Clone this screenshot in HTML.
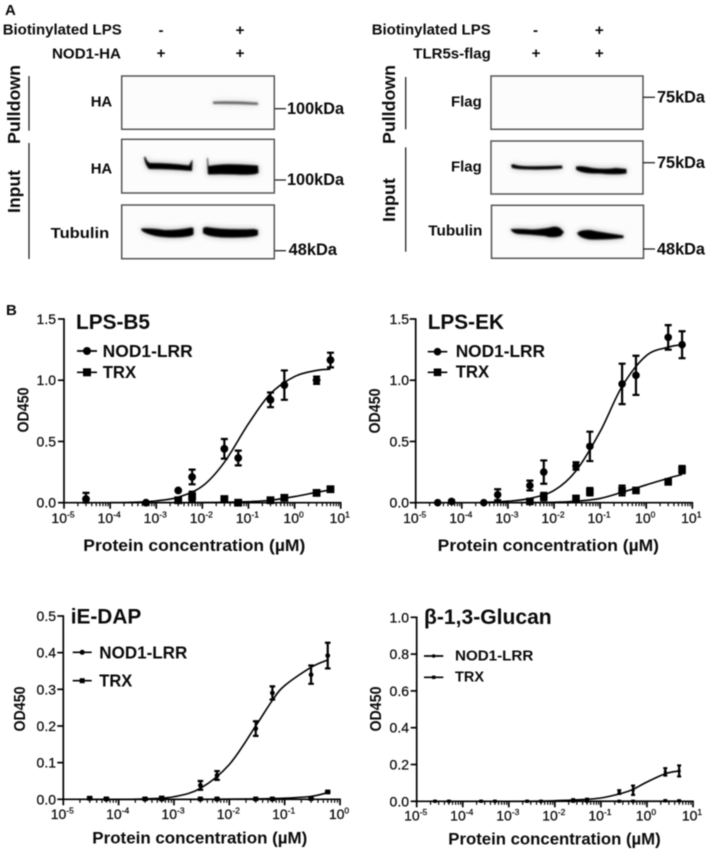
<!DOCTYPE html>
<html lang="en">
<head>
<meta charset="utf-8">
<title>NOD1 binding figure</title>
<style>
html,body{margin:0;padding:0;background:#fff;width:709px;height:850px;overflow:hidden}
svg{display:block;filter:blur(0.45px)}
text{font-family:"Liberation Sans",Arial,sans-serif;fill:#0a0a0a}
.b{font-weight:bold}
.lab{font-weight:bold;font-size:15.2px}
.pl{font-weight:bold;font-size:17.5px}
.kda{font-weight:bold;font-size:16.3px}
.title{font-weight:bold;font-size:21px}
.leg{font-weight:bold;font-size:17.3px}
.xt{font-weight:bold;font-size:17px}
.od{font-weight:bold;font-size:15.5px}
.tick{font-size:14px;stroke:#0a0a0a;stroke-width:.25}
.blot{fill:#fcfcfc;stroke:#555;stroke-width:1.5}
.line{stroke:#222;stroke-width:1.3;fill:none}
</style>
</head>
<body>
<svg id="fig" width="709" height="850" viewBox="0 0 709 850" xmlns="http://www.w3.org/2000/svg">
<defs>
<filter id="bl" x="-15%" y="-150%" width="130%" height="400%">
<feGaussianBlur in="SourceGraphic" stdDeviation="3.2" result="halo"/>
<feComponentTransfer in="halo" result="h2"><feFuncA type="linear" slope="0.35"/></feComponentTransfer>
<feGaussianBlur in="SourceGraphic" stdDeviation="0.7" result="core"/>
<feMerge><feMergeNode in="h2"/><feMergeNode in="core"/></feMerge>
</filter>
</defs>

<g>
<text class="b" x="5" y="15" font-size="15">A</text>

<g>
<text class="lab" x="2.7" y="34.7" textLength="119" lengthAdjust="spacingAndGlyphs">Biotinylated LPS</text>
<text class="lab" x="52" y="58.7" textLength="69" lengthAdjust="spacingAndGlyphs">NOD1-HA</text>
<text class="lab" x="161" y="35" text-anchor="middle">-</text>
<text class="lab" x="240" y="35" text-anchor="middle">+</text>
<text class="lab" x="161" y="58" text-anchor="middle">+</text>
<text class="lab" x="240" y="58" text-anchor="middle">+</text>
<text class="pl" transform="translate(20,144) rotate(-90)" textLength="79" lengthAdjust="spacingAndGlyphs">Pulldown</text>
<text class="pl" transform="translate(20,213) rotate(-90)" textLength="43" lengthAdjust="spacingAndGlyphs">Input</text>
<line class="line" x1="29" y1="76" x2="29" y2="130.7"/>
<line class="line" x1="29" y1="143" x2="29" y2="259"/>
<text class="lab" x="90.7" y="106.7" textLength="21.5" lengthAdjust="spacingAndGlyphs">HA</text>
<text class="lab" x="90.7" y="173.3" textLength="21.5" lengthAdjust="spacingAndGlyphs">HA</text>
<text class="lab" x="50.7" y="238" textLength="58.5" lengthAdjust="spacingAndGlyphs">Tubulin</text>
<rect class="blot" x="121.7" y="76" width="152.6" height="53.3"/>
<rect class="blot" x="121.7" y="139.3" width="152.6" height="53.7"/>
<rect class="blot" x="121.7" y="205" width="152.6" height="53.7"/>
<path filter="url(#bl)" fill="#666" d="M213 101.5 Q235 100.8 258 102.5 L258 105 Q235 103.8 213 104Z"/>
<path filter="url(#bl)" fill="#000" d="M144 157 L145.5 157 Q147 162 150 163 Q170 163 189 165.5 L192 160 L192.5 160 L192 171 Q170 169 149 169 Q145 165 144 157Z"/>
<path filter="url(#bl)" fill="#000" d="M207 158 L207.8 158 L208.5 166 Q222 163.5 240 164.5 Q250 165 258 165.5 L258.5 173 Q254 175.5 235 174.5 Q220 174 208 174.5Z"/>
<path filter="url(#bl)" fill="#000" d="M141 228.5 Q150 228 165 230 Q180 230 191 227.5 L193.5 228 L193.5 234.5 Q190 237.5 170 237.5 Q152 237 142 231Z"/>
<path filter="url(#bl)" fill="#000" d="M203 228 L206 227 Q225 230 254 229 L258 230 L258 235 Q254 238 225 237.5 Q208 237 203 233Z"/>
<line class="line" x1="275" y1="108.7" x2="286" y2="108.7"/>
<text class="kda" x="287" y="114" textLength="57" lengthAdjust="spacingAndGlyphs">100kDa</text>
<line class="line" x1="275" y1="180" x2="286" y2="180"/>
<text class="kda" x="287" y="185" textLength="57" lengthAdjust="spacingAndGlyphs">100kDa</text>
<line class="line" x1="275" y1="250.7" x2="286" y2="250.7"/>
<text class="kda" x="288.7" y="255" textLength="48.3" lengthAdjust="spacingAndGlyphs">48kDa</text>
</g>

<g>
<text class="lab" x="371.7" y="34.7" textLength="119" lengthAdjust="spacingAndGlyphs">Biotinylated LPS</text>
<text class="lab" x="413.3" y="58.7" textLength="77.5" lengthAdjust="spacingAndGlyphs">TLR5s-flag</text>
<text class="lab" x="535.5" y="35" text-anchor="middle">-</text>
<text class="lab" x="599.3" y="35" text-anchor="middle">+</text>
<text class="lab" x="536" y="58" text-anchor="middle">+</text>
<text class="lab" x="599.3" y="58" text-anchor="middle">+</text>
<text class="pl" transform="translate(395,144) rotate(-90)" textLength="79" lengthAdjust="spacingAndGlyphs">Pulldown</text>
<text class="pl" transform="translate(395,222) rotate(-90)" textLength="44" lengthAdjust="spacingAndGlyphs">Input</text>
<line class="line" x1="405.7" y1="77" x2="405.7" y2="129.3"/>
<line class="line" x1="405.7" y1="147.3" x2="405.7" y2="251.7"/>
<text class="lab" x="451" y="106.7" textLength="30.7" lengthAdjust="spacingAndGlyphs">Flag</text>
<text class="lab" x="451" y="171.3" textLength="30.7" lengthAdjust="spacingAndGlyphs">Flag</text>
<text class="lab" x="428.3" y="235.3" textLength="54" lengthAdjust="spacingAndGlyphs">Tubulin</text>
<rect class="blot" x="491" y="76" width="152" height="53.3"/>
<rect class="blot" x="491" y="141" width="152" height="53"/>
<rect class="blot" x="491.5" y="205.3" width="152" height="53"/>
<path filter="url(#bl)" fill="#000" d="M511 165 Q513 163.5 516 165 Q520 166.3 535 166.3 Q550 166 562 165.5 L562.5 168.5 Q545 170 530 169.5 Q518 169.5 512 168Z"/>
<path filter="url(#bl)" fill="#000" d="M576 166.5 Q582 165.5 592 168 Q605 169.5 616 168 L626.5 169 L626.5 173.5 Q615 175 600 173.5 Q582 174 576 169.5Z"/>
<path filter="url(#bl)" fill="#000" d="M510.5 229 Q520 228.5 532 229.5 Q542 229 550 227.5 Q556 225.5 560 228 L564 232 L561 236 Q552 238.5 545 236 Q530 234.5 518 234 Q512 233 510.5 229Z"/>
<path filter="url(#bl)" fill="#000" d="M577 233 Q580 229.5 590 230 Q600 232 623.5 235.5 L623.5 238 Q605 240 590 239.5 Q579 238 577 233Z"/>
<line class="line" x1="643" y1="97.3" x2="655" y2="97.3"/>
<text class="kda" x="657" y="102.7" textLength="48" lengthAdjust="spacingAndGlyphs">75kDa</text>
<line class="line" x1="643" y1="162.7" x2="655" y2="162.7"/>
<text class="kda" x="657" y="168" textLength="48" lengthAdjust="spacingAndGlyphs">75kDa</text>
<line class="line" x1="643" y1="249" x2="655" y2="249"/>
<text class="kda" x="657" y="254.3" textLength="48" lengthAdjust="spacingAndGlyphs">48kDa</text>
</g>
</g>

<g>
<text class="b" x="6" y="315" font-size="15">B</text>

<g id="chart-b5">
<text class="title" x="76" y="329" textLength="74" lengthAdjust="spacingAndGlyphs">LPS-B5</text>
<g>
<line x1="77" x2="97" y1="351" y2="351" stroke="#000" stroke-width="1.7"/>
<circle cx="87" cy="351" r="4" fill="#000"/>
<text class="leg" x="102.7" y="357" textLength="90" lengthAdjust="spacingAndGlyphs">NOD1-LRR</text>
<line x1="77" x2="97" y1="372.3" y2="372.3" stroke="#000" stroke-width="1.7"/>
<rect x="83" y="368.3" width="8" height="8" fill="#000"/>
<text class="leg" x="102.7" y="378" textLength="33.5" lengthAdjust="spacingAndGlyphs">TRX</text>
</g>
<text class="xt" x="83.3" y="551" textLength="222" lengthAdjust="spacingAndGlyphs">Protein concentration (µM)</text>
<text class="od" transform="translate(28.3,432.5) rotate(-90)" textLength="45" lengthAdjust="spacingAndGlyphs">OD450</text>
</g>

<g id="chart-ek">
<text class="title" x="427.7" y="329" textLength="76.3" lengthAdjust="spacingAndGlyphs">LPS-EK</text>
<g>
<line x1="427.7" x2="447.3" y1="351.7" y2="351.7" stroke="#000" stroke-width="1.7"/>
<circle cx="437.5" cy="351.7" r="3.8" fill="#000"/>
<text class="leg" x="455.7" y="357" textLength="89.3" lengthAdjust="spacingAndGlyphs">NOD1-LRR</text>
<line x1="427.7" x2="447.3" y1="372.3" y2="372.3" stroke="#000" stroke-width="1.7"/>
<rect x="433.7" y="368.5" width="7.6" height="7.6" fill="#000"/>
<text class="leg" x="455.7" y="377.7" textLength="33.5" lengthAdjust="spacingAndGlyphs">TRX</text>
</g>
<text class="xt" x="437.7" y="551" textLength="221.3" lengthAdjust="spacingAndGlyphs">Protein concentration (µM)</text>
<text class="od" transform="translate(380,433.5) rotate(-90)" textLength="45" lengthAdjust="spacingAndGlyphs">OD450</text>
</g>

<g id="chart-dap">
<text class="title" x="70.7" y="623.3" textLength="70.6" lengthAdjust="spacingAndGlyphs">iE-DAP</text>
<g>
<line x1="72.7" x2="91.7" y1="652.3" y2="652.3" stroke="#000" stroke-width="1.7"/>
<circle cx="82.2" cy="652.3" r="2.5" fill="#000"/>
<text class="leg" x="99.3" y="658.3" textLength="88" lengthAdjust="spacingAndGlyphs">NOD1-LRR</text>
<line x1="72.7" x2="91.7" y1="680.7" y2="680.7" stroke="#000" stroke-width="1.7"/>
<rect x="79.7" y="678.2" width="5" height="5" fill="#000"/>
<text class="leg" x="99.3" y="686.7" textLength="33" lengthAdjust="spacingAndGlyphs">TRX</text>
</g>
<text class="xt" x="92.3" y="843.3" textLength="215" lengthAdjust="spacingAndGlyphs">Protein concentration (µM)</text>
<text class="od" transform="translate(25,731.5) rotate(-90)" textLength="45" lengthAdjust="spacingAndGlyphs">OD450</text>
</g>

<g id="chart-glu">
<text class="title" x="424" y="624" textLength="127.7" lengthAdjust="spacingAndGlyphs">β-1,3-Glucan</text>
<g>
<line x1="424" x2="443.3" y1="656" y2="656" stroke="#000" stroke-width="1.7"/>
<circle cx="433.7" cy="656" r="1.8" fill="#000"/>
<text class="leg" x="455" y="660.7" textLength="78.3" lengthAdjust="spacingAndGlyphs" style="font-size:15.2px">NOD1-LRR</text>
<line x1="424" x2="443.3" y1="677.3" y2="677.3" stroke="#000" stroke-width="1.7"/>
<rect x="432" y="675.6" width="3.4" height="3.4" fill="#000"/>
<text class="leg" x="455" y="681.7" textLength="29" lengthAdjust="spacingAndGlyphs" style="font-size:15.2px">TRX</text>
</g>
<text class="xt" x="448.3" y="844.3" textLength="212.4" lengthAdjust="spacingAndGlyphs">Protein concentration (µM)</text>
<text class="od" transform="translate(381,731.5) rotate(-90)" textLength="45" lengthAdjust="spacingAndGlyphs">OD450</text>
</g>
</g>
</svg>

<script>
// ---- shared ticks ----
const xExponentsWide = [-5, -4, -3, -2, -1, 0, 1];
const xExponentsNarrow = [-5, -4, -3, -2, -1, 0];
const yTicksLps = ['0.0', '0.5', '1.0', '1.5'];
const yTicksDap = ['0.0', '0.1', '0.2', '0.3', '0.4', '0.5'];
const yTicksGlu = ['0.0', '0.2', '0.4', '0.6', '0.8', '1.0'];

// ---- LPS-B5 ----
const b5NodConc = [3e-5, 6e-4, 3e-3, 6e-3, 3e-2, 6e-2, 0.3, 0.6, 3, 6];
const b5NodValues = [0.03, 0.0, 0.10, 0.21, 0.44, 0.365, 0.84, 0.96, 1.0, 1.165];
const b5NodErrors = [0.05, 0.0, 0.0, 0.06, 0.08, 0.06, 0.06, 0.12, 0.03, 0.06];
const b5TrxConc = [3e-3, 6e-3, 3e-2, 6e-2, 0.3, 0.6, 3, 6];
const b5TrxValues = [0.02, 0.05, 0.03, 0.0, 0.02, 0.04, 0.08, 0.11];
const b5TrxErrors = [0.01, 0.04, 0.02, 0.01, 0.01, 0.02, 0.02, 0.01];
const b5NodCurveConc = [1e-4, 3e-4, 1e-3, 3e-3, 1e-2, 3e-2, 0.1, 0.3, 1, 3, 6];
const b5NodCurveValues = [0.0, 0.003, 0.015, 0.045, 0.135, 0.33, 0.645, 0.89, 1.03, 1.08, 1.09];
const b5TrxCurveConc = [1e-3, 1e-2, 3e-2, 0.1, 0.3, 1, 3, 6];
const b5TrxCurveValues = [0.0, 0.001, 0.003, 0.008, 0.02, 0.05, 0.085, 0.105];

// ---- LPS-EK ----
const ekNodConc = [3e-5, 6e-5, 3e-4, 6e-4, 3e-3, 6e-3, 3e-2, 6e-2, 0.3, 0.6, 3, 6];
const ekNodValues = [0.0, 0.01, 0.0, 0.065, 0.14, 0.25, 0.30, 0.46, 0.97, 1.04, 1.35, 1.29];
const ekNodErrors = [0.0, 0.01, 0.0, 0.045, 0.04, 0.095, 0.03, 0.12, 0.165, 0.16, 0.10, 0.11];
const ekTrxConc = [3e-3, 6e-3, 3e-2, 6e-2, 0.3, 0.6, 3, 6];
const ekTrxValues = [0.01, 0.05, 0.035, 0.09, 0.10, 0.10, 0.17, 0.27];
const ekTrxErrors = [0.01, 0.03, 0.02, 0.03, 0.04, 0.02, 0.02, 0.03];
const ekNodCurveConc = [3e-4, 1e-3, 3e-3, 1e-2, 3e-2, 0.1, 0.3, 1, 3, 6];
const ekNodCurveValues = [0.003, 0.012, 0.035, 0.10, 0.26, 0.58, 0.95, 1.2, 1.27, 1.29];
const ekTrxCurveConc = [1e-3, 1e-2, 3e-2, 0.1, 0.3, 1, 3, 6];
const ekTrxCurveValues = [0.0, 0.003, 0.012, 0.035, 0.085, 0.145, 0.2, 0.23];

// ---- iE-DAP ----
const dapConc = [3e-5, 6e-5, 3e-4, 6e-4, 3e-3, 6e-3, 3e-2, 6e-2, 0.3, 0.6];
const dapNodValues = [0.002, 0.001, 0.001, 0.003, 0.038, 0.065, 0.193, 0.29, 0.34, 0.392];
const dapNodErrors = [0.004, 0.003, 0.002, 0.004, 0.012, 0.012, 0.02, 0.018, 0.025, 0.035];
const dapTrxValues = [0.003, 0.001, 0.001, 0.001, 0.001, 0.001, 0.001, 0.001, 0.002, 0.02];
const dapTrxErrors = [0.002, 0.001, 0.001, 0.001, 0.001, 0.001, 0.001, 0.001, 0.001, 0.002];
const dapNodCurveConc = [3e-5, 1e-4, 3e-4, 1e-3, 3e-3, 1e-2, 3e-2, 6e-2, 0.1, 0.3, 0.6];
const dapNodCurveValues = [0.0, 0.0, 0.001, 0.007, 0.03, 0.095, 0.2, 0.27, 0.31, 0.36, 0.38];
const dapTrxCurveConc = [3e-5, 3e-3, 3e-2, 0.1, 0.3, 0.6];
const dapTrxCurveValues = [0.0, 0.0, 0.001, 0.003, 0.008, 0.018];

// ---- beta-1,3-glucan ----
const gluConc = [2.5e-5, 5e-5, 2.5e-4, 5e-4, 2.5e-3, 5e-3, 2.5e-2, 5e-2, 0.25, 0.5, 2.5, 5];
const gluNodValues = [0.0, 0.0, 0.0, 0.0, 0.0, 0.0, 0.005, 0.008, 0.05, 0.06, 0.16, 0.165];
const gluNodErrors = [0.002, 0.002, 0.002, 0.002, 0.002, 0.002, 0.006, 0.006, 0.01, 0.025, 0.02, 0.03];
const gluTrxValues = [0.0, 0.0, 0.0, 0.0, 0.0, 0.0, 0.0, 0.0, 0.0, 0.0, 0.003, 0.002];
const gluTrxErrors = [0.002, 0.002, 0.002, 0.002, 0.002, 0.002, 0.002, 0.002, 0.002, 0.002, 0.003, 0.003];
const gluNodCurveConc = [3e-3, 1e-2, 3e-2, 0.1, 0.3, 0.5, 1, 2.5, 5];
const gluNodCurveValues = [0.0, 0.003, 0.008, 0.018, 0.045, 0.065, 0.105, 0.15, 0.165];
const gluTrxCurveConc = [1e-4, 5];
const gluTrxCurveValues = [0.0, 0.001];

const NS = 'http://www.w3.org/2000/svg';
function mk(parent, tag, attrs) {
  const el = document.createElementNS(NS, tag);
  for (const k in attrs) el.setAttribute(k, attrs[k]);
  parent.appendChild(el);
  return el;
}
function smoothPath(pts) {
  let d = 'M' + pts[0][0].toFixed(2) + ' ' + pts[0][1].toFixed(2);
  for (let i = 0; i < pts.length - 1; i++) {
    const p0 = pts[Math.max(0, i - 1)], p1 = pts[i], p2 = pts[i + 1], p3 = pts[Math.min(pts.length - 1, i + 2)];
    const c1x = p1[0] + (p2[0] - p0[0]) / 6, c1y = p1[1] + (p2[1] - p0[1]) / 6;
    const c2x = p2[0] - (p3[0] - p1[0]) / 6, c2y = p2[1] - (p3[1] - p1[1]) / 6;
    d += 'C' + [c1x, c1y, c2x, c2y, p2[0], p2[1]].map(n => n.toFixed(2)).join(' ');
  }
  return d;
}

function drawChart(id, frame, exponents, yTicks, seriesList) {
  const host = document.getElementById(id);
  const logMin = exponents[0], logMax = exponents[exponents.length - 1];
  const yMax = parseFloat(yTicks[yTicks.length - 1]);
  const xScale = c => frame.x0 + (Math.log10(c) - logMin) * (frame.x1 - frame.x0) / (logMax - logMin);
  const yScale = v => frame.y0 - v * (frame.y0 - frame.yTop) / yMax;

  const axes = mk(host, 'g', {});
  
  
  const axisStyle = { stroke: '#000', 'stroke-width': 1.7, fill: 'none' };

  const xAxis = mk(axes, 'line', Object.assign({ x1: frame.x0 - 0.8, x2: frame.x1 + 0.8, y1: frame.y0, y2: frame.y0 }, axisStyle));
  
  
  const yAxis = mk(axes, 'line', Object.assign({ x1: frame.x0, x2: frame.x0, y1: frame.y0, y2: frame.yTop - 0.8 }, axisStyle));
  
  

  exponents.forEach((e, i) => {
    const px = xScale(Math.pow(10, e));
    const t = mk(axes, 'line', Object.assign({ x1: px, x2: px, y1: frame.y0, y2: frame.y0 + 6 }, axisStyle));
    
    
    const label = mk(axes, 'text', { class: 'tick', x: px - 1, y: frame.xLabelY, 'text-anchor': 'middle' });
    
    
    label.appendChild(document.createTextNode('10'));
    const sup = mk(label, 'tspan', { dy: -5.5, style: 'font-size:8.5px' });
    sup.textContent = String(e);
    if (i < exponents.length - 1) {
      for (let m = 2; m <= 9; m++) {
        const mx = xScale(m * Math.pow(10, e));
        const minor = mk(axes, 'line', { x1: mx, x2: mx, y1: frame.y0, y2: frame.y0 + 3.5, stroke: '#000', 'stroke-width': 1.2 });
        
        
      }
    }
  });

  yTicks.forEach(lab => {
    const py = yScale(parseFloat(lab));
    const t = mk(axes, 'line', Object.assign({ x1: frame.x0 - 6, x2: frame.x0, y1: py, y2: py }, axisStyle));
    
    
    const label = mk(axes, 'text', { class: 'tick', x: frame.yLabelX, y: py + 5, 'text-anchor': 'end' });
    
    
    label.textContent = lab;
  });

  seriesList.forEach(s => {
    const g = mk(host, 'g', {});
    
    

    const pts = s.curveConc.map((c, i) => [xScale(c), yScale(s.curveValues[i])]);
    const curve = mk(g, 'path', { d: smoothPath(pts), fill: 'none', stroke: '#000', 'stroke-width': 1.6 });
    
    

    s.conc.forEach((c, i) => {
      const px = xScale(c), v = s.values[i], err = s.errors[i];
      if (err > 0) {
        const yHi = yScale(v + err), yLo = yScale(Math.max(0, v - err));
        const bar = mk(g, 'path', { d: `M${px} ${yHi}V${yLo}M${px - frame.cap} ${yHi}H${px + frame.cap}M${px - frame.cap} ${yLo}H${px + frame.cap}`, fill: 'none', stroke: '#000', 'stroke-width': 2.2 });
        
        
      }
      let mark;
      if (s.shape === 'circle') {
        mark = mk(g, 'circle', { cx: px, cy: yScale(v), r: frame.marker, fill: '#000' });
      } else {
        mark = mk(g, 'rect', { x: px - frame.marker, y: yScale(v) - frame.marker, width: frame.marker * 2, height: frame.marker * 2, fill: '#000' });
      }
      
      
    });
  });
}

drawChart('chart-b5', { x0: 64, x1: 340.7, y0: 502.7, yTop: 319, xLabelY: 523, yLabelX: 56, cap: 3.5, marker: 3.9 }, xExponentsWide, yTicksLps, [
  { name: 'nod1-lrr', shape: 'circle', conc: b5NodConc, values: b5NodValues, errors: b5NodErrors, curveConc: b5NodCurveConc, curveValues: b5NodCurveValues },
  { name: 'trx', shape: 'square', conc: b5TrxConc, values: b5TrxValues, errors: b5TrxErrors, curveConc: b5TrxCurveConc, curveValues: b5TrxCurveValues }
]);
drawChart('chart-ek', { x0: 415.7, x1: 692.3, y0: 502.7, yTop: 319, xLabelY: 523, yLabelX: 409, cap: 3.5, marker: 3.8 }, xExponentsWide, yTicksLps, [
  { name: 'nod1-lrr', shape: 'circle', conc: ekNodConc, values: ekNodValues, errors: ekNodErrors, curveConc: ekNodCurveConc, curveValues: ekNodCurveValues },
  { name: 'trx', shape: 'square', conc: ekTrxConc, values: ekTrxValues, errors: ekTrxErrors, curveConc: ekTrxCurveConc, curveValues: ekTrxCurveValues }
]);
drawChart('chart-dap', { x0: 63.3, x1: 340, y0: 799.3, yTop: 616, xLabelY: 819, yLabelX: 56, cap: 2.8, marker: 2.4 }, xExponentsNarrow, yTicksDap, [
  { name: 'nod1-lrr', shape: 'circle', conc: dapConc, values: dapNodValues, errors: dapNodErrors, curveConc: dapNodCurveConc, curveValues: dapNodCurveValues },
  { name: 'trx', shape: 'square', conc: dapConc, values: dapTrxValues, errors: dapTrxErrors, curveConc: dapTrxCurveConc, curveValues: dapTrxCurveValues }
]);
drawChart('chart-glu', { x0: 416.7, x1: 693, y0: 801.3, yTop: 617.3, xLabelY: 820.7, yLabelX: 409, cap: 2, marker: 1.6 }, xExponentsWide, yTicksGlu, [
  { name: 'nod1-lrr', shape: 'circle', conc: gluConc, values: gluNodValues, errors: gluNodErrors, curveConc: gluNodCurveConc, curveValues: gluNodCurveValues },
  { name: 'trx', shape: 'square', conc: gluConc, values: gluTrxValues, errors: gluTrxErrors, curveConc: gluTrxCurveConc, curveValues: gluTrxCurveValues }
]);
</script>
</body>
</html>
